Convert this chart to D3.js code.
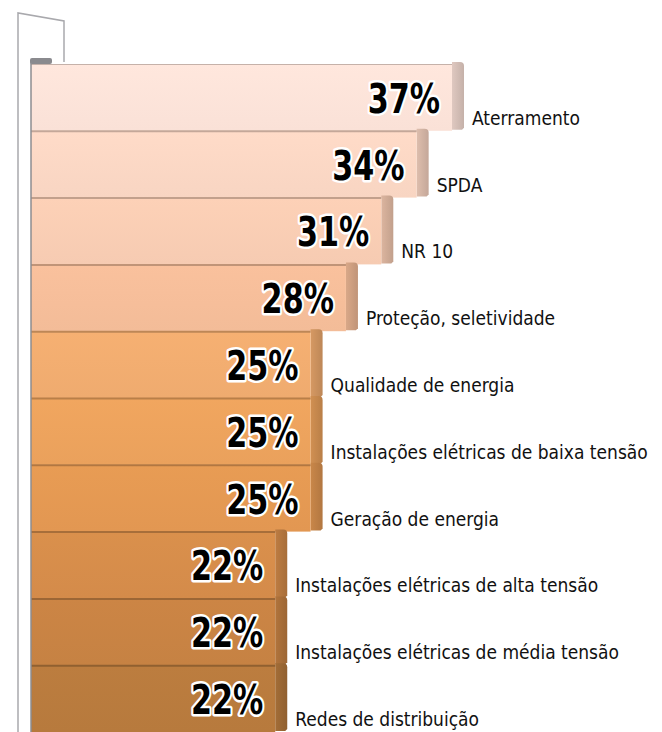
<!DOCTYPE html>
<html lang="pt">
<head>
  <meta charset="utf-8">
  <title>Temas</title>
  <script src="https://d3js.org/d3.v7.min.js"></script>
  <style>
  body { margin: 0; background: #fff; }
  .pct {
      font: bold 40px "DejaVu Sans Condensed", "DejaVu Sans", sans-serif;
      fill: #000;
      stroke: #fff;
      stroke-width: 5px;
      stroke-linejoin: round;
      paint-order: stroke;
  }
  .lbl {
      font: 19px "DejaVu Sans Condensed", "DejaVu Sans", sans-serif;
      fill: #111;
  }
  </style>
</head>
<body>
<script>

var categories = ["Aterramento", "SPDA", "NR 10", "Proteção, seletividade", "Qualidade de energia",
    "Instalações elétricas de baixa tensão", "Geração de energia", "Instalações elétricas de alta tensão",
    "Instalações elétricas de média tensão", "Redes de distribuição"];
var values = [37, 34, 31, 28, 25, 25, 25, 22, 22, 22];
var colors = ["#fde3d9", "#fbd7c4", "#f9cdb4", "#f6be9a", "#f2ad70",
    "#eda35d", "#e49953", "#d68d4b", "#c88344", "#b97b3e"];

var width = 662, height = 732,
    left = 31, depth = 12;

var x = d3.scaleLinear().domain([0, 37]).range([16, 452]);
var y = d3.scaleBand().domain(categories).range([64, 732]).padding(0);

var svg = d3.select("body").append("svg")
    .attr("width", width)
    .attr("height", height);

var defs = svg.append("defs");
colors.forEach(function(c, i) {
  var g = defs.append("linearGradient")
      .attr("id", "grad" + i)
      .attr("x1", 0).attr("y1", 0).attr("x2", 0).attr("y2", 1);
  g.append("stop").attr("offset", "0%").attr("stop-color", d3.color(c).brighter(0.05));
  g.append("stop").attr("offset", "100%").attr("stop-color", d3.color(c).darker(0.03));
  var s = defs.append("linearGradient")
      .attr("id", "side" + i)
      .attr("x1", 0).attr("y1", 0).attr("x2", 1).attr("y2", 0);
  s.append("stop").attr("offset", "0%").attr("stop-color", d3.color(c).darker(0.35));
  s.append("stop").attr("offset", "100%").attr("stop-color", d3.color(c).darker(0.7));
});

// wall / post outline
svg.append("path")
    .attr("d", "M18,732 V13 L64,21 V62")
    .attr("fill", "none")
    .attr("stroke", "#a9a9ad")
    .attr("stroke-width", 1.5);

var data = categories.map(function(c, i) { return {cat: c, v: values[i], i: i}; });

var bar = svg.selectAll(".bar")
    .data(data)
  .enter().append("g")
    .attr("class", "bar");

// side face
bar.append("path")
    .attr("d", function(d) {
      var x0 = x(d.v), t = y(d.cat) - 2, b = y(d.cat) + y.bandwidth() - 1;
      return "M" + x0 + "," + t + " H" + (x0 + depth - 4) + " Q" + (x0 + depth) + "," + t + " " + (x0 + depth) + "," + (t + 4) +
             " V" + (b - 2) + " L" + (x0 + depth - 2) + "," + b + " H" + x0 + "Z";
    })
    .attr("fill", function(d) { return "url(#side" + d.i + ")"; });

// front face
bar.append("rect")
    .attr("x", left)
    .attr("y", function(d) { return y(d.cat); })
    .attr("width", function(d) { return x(d.v) - left; })
    .attr("height", y.bandwidth())
    .attr("fill", function(d) { return "url(#grad" + d.i + ")"; });

// separator at top of each bar
bar.append("line")
    .attr("x1", left)
    .attr("x2", function(d) { return x(d.v); })
    .attr("y1", function(d) { return y(d.cat) + 0.5; })
    .attr("y2", function(d) { return y(d.cat) + 0.5; })
    .attr("stroke", function(d) { return d3.color(colors[d.i]).darker(0.7); })
    .attr("stroke-width", function(d) { return d.i === 0 ? 1 : 2; });

// left edge of bars
svg.append("line")
    .attr("x1", left).attr("x2", left)
    .attr("y1", 60).attr("y2", height)
    .attr("stroke", "#8d8d90")
    .attr("stroke-width", 1.5);

// post cap
svg.append("rect")
    .attr("x", 30).attr("y", 58)
    .attr("width", 22).attr("height", 6)
    .attr("rx", 2)
    .attr("fill", "#8a8a8e");

// percent labels, squeezed horizontally to look condensed
bar.append("text")
    .attr("class", "pct")
    .attr("text-anchor", "end")
    .attr("transform", function(d) {
      return "translate(" + (x(d.v) - 12) + "," + (y(d.cat) + y.bandwidth() - 18) + ") scale(0.84,1)";
    })
    .text(function(d) { return d.v + "%"; });

bar.append("text")
    .attr("class", "lbl")
    .attr("x", function(d) { return x(d.v) + depth + 8; })
    .attr("y", function(d) { return y(d.cat) + y.bandwidth() - 6; })
    .text(function(d) { return d.cat; });

</script>
</body>
</html>
